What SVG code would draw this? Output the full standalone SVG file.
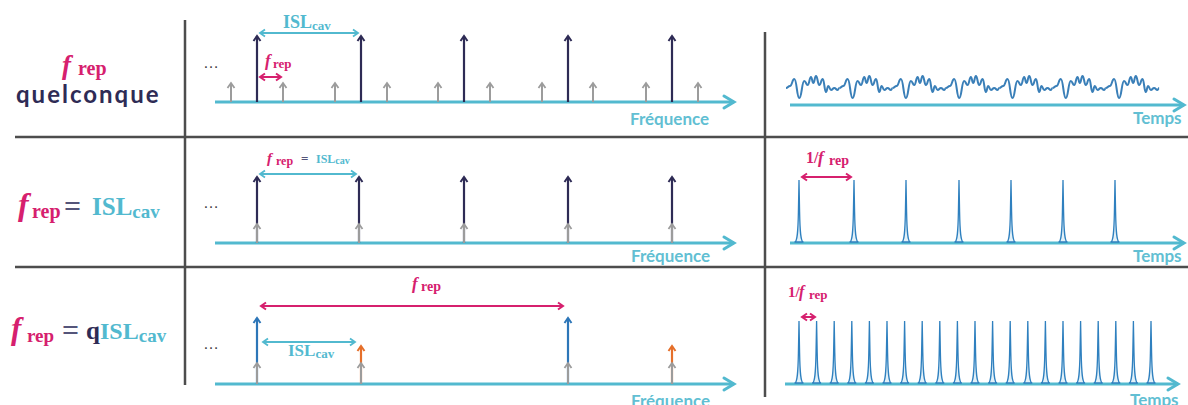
<svg xmlns="http://www.w3.org/2000/svg" xmlns:xlink="http://www.w3.org/1999/xlink" width="1188" height="405" viewBox="0 0 1188 405">
<style>
.grid{stroke:#4d4d4d;stroke-width:2.5;fill:none}
.axis{stroke:#52b9cf;stroke-width:3;fill:none;marker-end:url(#mAxis)}
.navy{stroke:#2e2b55;stroke-width:2.2;marker-end:url(#mNavy)}
.gray{stroke:#9c9c9c;stroke-width:2;marker-end:url(#mGray)}
.blue{stroke:#2d76b8;stroke-width:2.2;marker-end:url(#mBlue)}
.orange{stroke:#e56f2a;stroke-width:2.2;marker-end:url(#mOrange)}
.dcyan{stroke:#52b9cf;stroke-width:1.8;marker-start:url(#mCyanS);marker-end:url(#mCyan)}
.dmag{stroke:#d6206e;stroke-width:2;marker-start:url(#mMagS);marker-end:url(#mMag)}
.serif{font-family:"Liberation Serif","Times New Roman",serif;font-weight:bold}
.fi{font-style:italic}
.sans{font-family:Lato,"Open Sans",sans-serif;font-weight:bold}
.mag{fill:#d6206e}
.cy{fill:#52b9cf}
.nv{fill:#2e2b55}
.eq{fill:#55557a}
.lbl{fill:#62bfd3;font-size:17px}
.dots{font-family:"Liberation Sans",Arial,sans-serif;font-size:16px;fill:#444}
.wave{fill:none;stroke:#3a7fb8;stroke-width:2;stroke-linejoin:round}
.pulse{fill:#e3f1f8;stroke:#2f80bf;stroke-width:1.3}
</style>
<defs>
<marker id="mAxis" markerUnits="userSpaceOnUse" markerWidth="30" markerHeight="30" refX="0" refY="0" orient="auto" overflow="visible"><path d="M-10,-6 L0,0 L-10,6" fill="none" stroke="#52b9cf" stroke-width="3" stroke-linecap="round"/></marker>
<marker id="mNavy" markerUnits="userSpaceOnUse" markerWidth="20" markerHeight="20" orient="auto" overflow="visible"><path d="M-5,-3.5 L0,0 L-5,3.5" fill="none" stroke="#2e2b55" stroke-width="2"/></marker>
<marker id="mGray" markerUnits="userSpaceOnUse" markerWidth="20" markerHeight="20" orient="auto" overflow="visible"><path d="M-5,-3.5 L0,0 L-5,3.5" fill="none" stroke="#9c9c9c" stroke-width="1.8"/></marker>
<marker id="mBlue" markerUnits="userSpaceOnUse" markerWidth="20" markerHeight="20" orient="auto" overflow="visible"><path d="M-5,-3.5 L0,0 L-5,3.5" fill="none" stroke="#2d76b8" stroke-width="2"/></marker>
<marker id="mOrange" markerUnits="userSpaceOnUse" markerWidth="20" markerHeight="20" orient="auto" overflow="visible"><path d="M-5,-3.5 L0,0 L-5,3.5" fill="none" stroke="#e56f2a" stroke-width="2"/></marker>
<marker id="mCyan" markerUnits="userSpaceOnUse" markerWidth="20" markerHeight="20" orient="auto" overflow="visible"><path d="M-5,-3.5 L0,0 L-5,3.5" fill="none" stroke="#52b9cf" stroke-width="1.8"/></marker>
<marker id="mCyanS" markerUnits="userSpaceOnUse" markerWidth="20" markerHeight="20" orient="auto-start-reverse" overflow="visible"><path d="M-5,-3.5 L0,0 L-5,3.5" fill="none" stroke="#52b9cf" stroke-width="1.8"/></marker>
<marker id="mMag" markerUnits="userSpaceOnUse" markerWidth="20" markerHeight="20" orient="auto" overflow="visible"><path d="M-5,-3.5 L0,0 L-5,3.5" fill="none" stroke="#d6206e" stroke-width="2"/></marker>
<marker id="mMagS" markerUnits="userSpaceOnUse" markerWidth="20" markerHeight="20" orient="auto-start-reverse" overflow="visible"><path d="M-5,-3.5 L0,0 L-5,3.5" fill="none" stroke="#d6206e" stroke-width="2"/></marker>
<path id="noise" class="wave" d="M0,1 C2,1 2,-1 4,-1 C6.15,-1 6.15,-8 8.3,-8 C10.8,-8 10.8,11 13.3,11 C15.8,11 15.8,-6 18.3,-6 C20,-6 20,-2 21.7,-2 C23.35,-2 23.35,-10 25,-10 C26.15,-10 26.15,-4 27.3,-4 C28.65,-4 28.65,-11 30,-11 C31.65,-11 31.65,-2 33.3,-2 C35,-2 35,-8 36.7,-8 C38.35,-8 38.35,5 40,5 C41.15,5 41.15,-1 42.3,-1 C43.65,-1 43.65,3 45,3 C46.65,3 46.65,1 48.3,1 C50,1 50,3 51.7,3 C52.5,3 52.5,1 53.3,1"/>
<path id="pulse" class="pulse" d="M-4.5,0 C-1.6,0 -1,-10 -0.6,-30 L0,-62 L0.6,-30 C1,-10 1.6,0 4.5,0 Z"/>
</defs>
<rect width="1188" height="405" fill="#ffffff"/>

<g id="grid">
<line class="grid" x1="185" y1="20" x2="185" y2="385"/>
<line class="grid" x1="765" y1="32" x2="765" y2="397"/>
<line class="grid" x1="15" y1="137" x2="1188" y2="137"/>
<line class="grid" x1="15" y1="267" x2="1188" y2="267"/>
</g>

<g id="row1-label">
<text class="serif fi mag" x="62" y="74" font-size="27">f</text>
<text class="serif mag" x="78" y="75" font-size="20">rep</text>
<text class="sans nv" x="16" y="103" font-size="24" letter-spacing="2">quelconque</text>
</g>

<g id="row1-spectrum">
<text class="dots" x="203" y="68">…</text>
<line class="axis" x1="215" y1="102" x2="734" y2="102"/>
<text class="sans lbl" x="630" y="125">Fréquence</text>
<g>
<line class="gray" x1="231" y1="102" x2="231" y2="83"/>
<line class="gray" x1="283" y1="102" x2="283" y2="83"/>
<line class="gray" x1="335" y1="102" x2="335" y2="83"/>
<line class="gray" x1="387" y1="102" x2="387" y2="83"/>
<line class="gray" x1="438" y1="102" x2="438" y2="83"/>
<line class="gray" x1="490" y1="102" x2="490" y2="83"/>
<line class="gray" x1="542" y1="102" x2="542" y2="83"/>
<line class="gray" x1="593" y1="102" x2="593" y2="83"/>
<line class="gray" x1="646" y1="102" x2="646" y2="83"/>
<line class="gray" x1="698" y1="102" x2="698" y2="83"/>
</g>
<g>
<line class="navy" x1="257" y1="102" x2="257" y2="36"/>
<line class="navy" x1="361" y1="102" x2="361" y2="36"/>
<line class="navy" x1="464" y1="102" x2="464" y2="36"/>
<line class="navy" x1="568" y1="102" x2="568" y2="36"/>
<line class="navy" x1="672" y1="102" x2="672" y2="36"/>
</g>
<line class="dcyan" x1="260" y1="33" x2="358" y2="33"/>
<text class="serif cy" x="283" y="28" font-size="18">ISL<tspan font-size="13" dy="2">cav</tspan></text>
<line class="dmag" x1="260" y1="77" x2="281" y2="77"/>
<text class="serif fi mag" x="265" y="66" font-size="17">f</text>
<text class="serif mag" x="273" y="68" font-size="13">rep</text>
</g>

<g id="row1-time">
<line class="axis" x1="790" y1="105" x2="1184" y2="105"/>
<text class="sans lbl" x="1133" y="124">Temps</text>
<use xlink:href="#noise" transform="translate(786,87)"/>
<use xlink:href="#noise" transform="translate(839.3,87)"/>
<use xlink:href="#noise" transform="translate(892.6,87)"/>
<use xlink:href="#noise" transform="translate(945.9,87)"/>
<use xlink:href="#noise" transform="translate(999.2,87)"/>
<use xlink:href="#noise" transform="translate(1052.5,87)"/>
<use xlink:href="#noise" transform="translate(1105.8,87)"/>
</g>

<g id="row2-label">
<text class="serif fi mag" x="18" y="215" font-size="32">f</text>
<text class="serif mag" x="32" y="218" font-size="20">rep</text>
<text class="serif eq" x="64" y="216" font-size="30" font-weight="normal">=</text>
<text class="serif cy" x="92" y="215" font-size="25">ISL<tspan font-size="19" dy="3">cav</tspan></text>
</g>

<g id="row2-spectrum">
<text class="dots" x="203" y="208">…</text>
<line class="axis" x1="215" y1="243" x2="734" y2="243"/>
<text class="sans lbl" x="631" y="262">Fréquence</text>
<g>
<line class="navy" x1="257" y1="243" x2="257" y2="177"/>
<line class="navy" x1="359" y1="243" x2="359" y2="177"/>
<line class="navy" x1="464" y1="243" x2="464" y2="177"/>
<line class="navy" x1="568" y1="243" x2="568" y2="177"/>
<line class="navy" x1="672" y1="243" x2="672" y2="177"/>
</g>
<g>
<line class="gray" x1="257" y1="243" x2="257" y2="224"/>
<line class="gray" x1="359" y1="243" x2="359" y2="224"/>
<line class="gray" x1="464" y1="243" x2="464" y2="224"/>
<line class="gray" x1="568" y1="243" x2="568" y2="224"/>
<line class="gray" x1="672" y1="243" x2="672" y2="224"/>
</g>
<line class="dcyan" x1="260" y1="174" x2="356" y2="174"/>
<text class="serif fi mag" x="267" y="163" font-size="15">f</text>
<text class="serif mag" x="276" y="165" font-size="12">rep</text>
<text class="serif eq" x="301" y="163" font-size="13" font-weight="normal">=</text>
<text class="serif cy" x="316" y="163" font-size="12" font-weight="normal">ISL<tspan font-size="10" dy="1">cav</tspan></text>
</g>

<g id="row2-time">
<line class="axis" x1="790" y1="243" x2="1184" y2="243"/>
<text class="sans lbl" x="1133" y="262">Temps</text>
<use xlink:href="#pulse" x="799" y="242"/>
<use xlink:href="#pulse" x="854" y="242"/>
<use xlink:href="#pulse" x="906" y="242"/>
<use xlink:href="#pulse" x="959" y="242"/>
<use xlink:href="#pulse" x="1011" y="242"/>
<use xlink:href="#pulse" x="1063" y="242"/>
<use xlink:href="#pulse" x="1115" y="242"/>
<line class="dmag" x1="802" y1="177" x2="851" y2="177"/>
<text class="serif mag" x="806" y="163" font-size="16">1/</text>
<text class="serif fi mag" x="818" y="163" font-size="17">f</text>
<text class="serif mag" x="829" y="165" font-size="14">rep</text>
</g>

<g id="row3-label">
<text class="serif fi mag" x="11" y="339" font-size="31">f</text>
<text class="serif mag" x="27" y="342" font-size="19">rep</text>
<text class="serif eq" x="62" y="340" font-size="30" font-weight="normal">=</text>
<text class="serif nv" x="86" y="339" font-size="25">q</text>
<text class="serif cy" x="100" y="339" font-size="24">ISL<tspan font-size="19" dy="3">cav</tspan></text>
</g>

<g id="row3-spectrum">
<text class="dots" x="203" y="349">…</text>
<line class="axis" x1="215" y1="384" x2="734" y2="384"/>
<text class="sans lbl" x="631" y="407">Fréquence</text>
<line class="blue" x1="257" y1="384" x2="257" y2="318"/>
<line class="blue" x1="568" y1="384" x2="568" y2="318"/>
<line class="orange" x1="361" y1="384" x2="361" y2="346"/>
<line class="orange" x1="672" y1="384" x2="672" y2="346"/>
<line class="gray" x1="257" y1="384" x2="257" y2="363"/>
<line class="gray" x1="361" y1="384" x2="361" y2="363"/>
<line class="gray" x1="568" y1="384" x2="568" y2="363"/>
<line class="gray" x1="672" y1="384" x2="672" y2="363"/>
<line class="dmag" x1="261" y1="306" x2="563" y2="306"/>
<text class="serif fi mag" x="412" y="289" font-size="17">f</text>
<text class="serif mag" x="421" y="291" font-size="14">rep</text>
<line class="dcyan" x1="263" y1="342" x2="355" y2="342"/>
<text class="serif cy" x="288" y="356" font-size="17">ISL<tspan font-size="13" dy="2">cav</tspan></text>
</g>

<g id="row3-time">
<line class="axis" x1="785" y1="384" x2="1178" y2="384"/>
<text class="sans lbl" x="1130" y="406">Temps</text>
<use xlink:href="#pulse" x="799" y="383"/>
<use xlink:href="#pulse" x="816.6" y="383"/>
<use xlink:href="#pulse" x="834.2" y="383"/>
<use xlink:href="#pulse" x="851.8" y="383"/>
<use xlink:href="#pulse" x="869.4" y="383"/>
<use xlink:href="#pulse" x="887" y="383"/>
<use xlink:href="#pulse" x="904.6" y="383"/>
<use xlink:href="#pulse" x="922.2" y="383"/>
<use xlink:href="#pulse" x="939.8" y="383"/>
<use xlink:href="#pulse" x="957.4" y="383"/>
<use xlink:href="#pulse" x="975" y="383"/>
<use xlink:href="#pulse" x="992.6" y="383"/>
<use xlink:href="#pulse" x="1010.2" y="383"/>
<use xlink:href="#pulse" x="1027.8" y="383"/>
<use xlink:href="#pulse" x="1045.4" y="383"/>
<use xlink:href="#pulse" x="1063" y="383"/>
<use xlink:href="#pulse" x="1080.6" y="383"/>
<use xlink:href="#pulse" x="1098.2" y="383"/>
<use xlink:href="#pulse" x="1115.8" y="383"/>
<use xlink:href="#pulse" x="1133.4" y="383"/>
<use xlink:href="#pulse" x="1151" y="383"/>
<line class="dmag" x1="802" y1="317" x2="815" y2="317"/>
<text class="serif mag" x="788" y="297" font-size="15">1/</text>
<text class="serif fi mag" x="799" y="297" font-size="16">f</text>
<text class="serif mag" x="809" y="299" font-size="13">rep</text>
</g>
</svg>
